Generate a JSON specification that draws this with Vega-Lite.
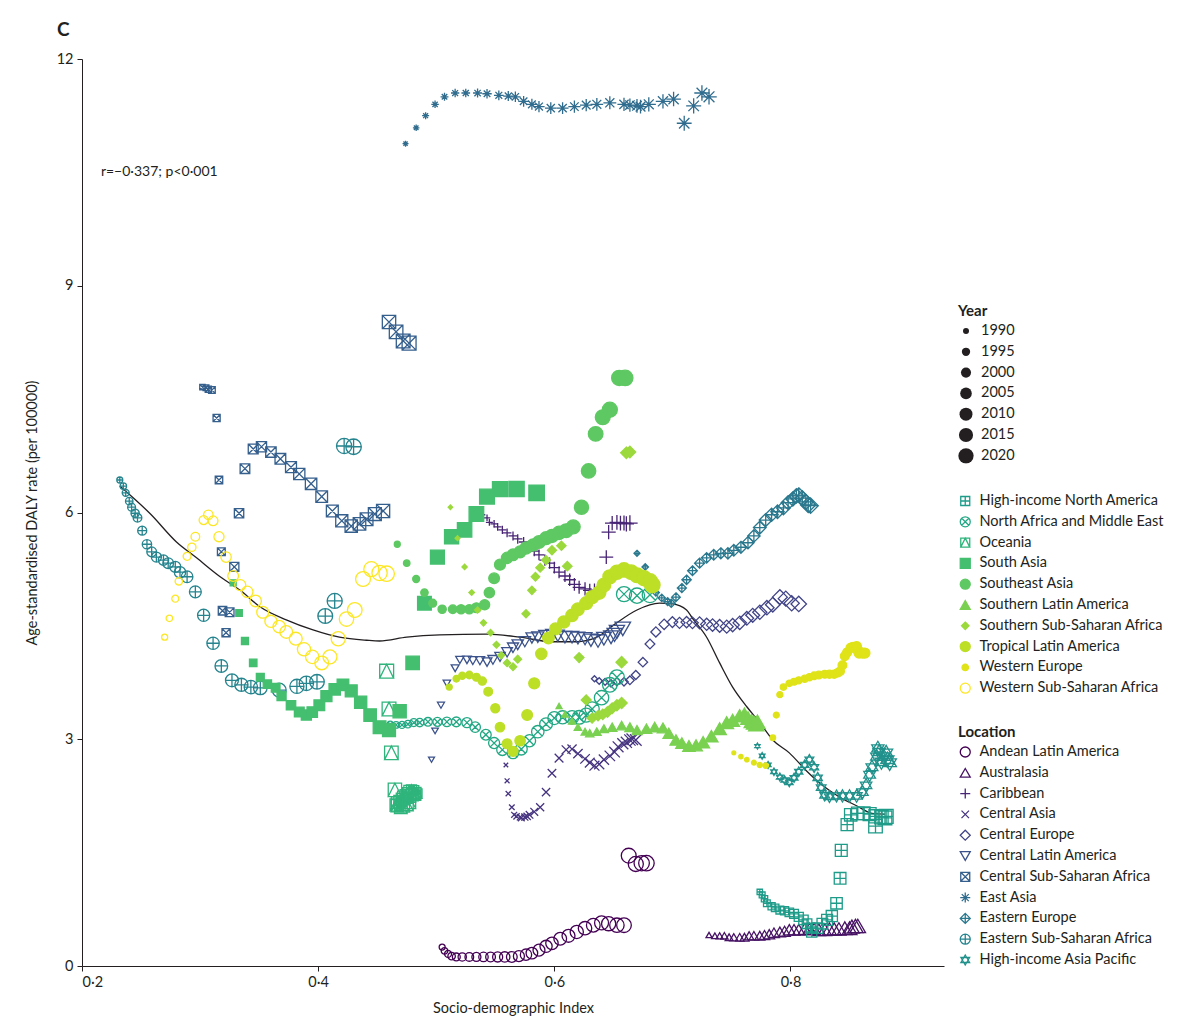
{
"$schema":"https://vega.github.io/schema/vega-lite/v6.json",
"width":862,"height":907,
"autosize":{"type":"none"},
"padding":{"left":82,"top":59,"right":245,"bottom":60},
"background":"white",
"title":{"text":"C","anchor":"start","frame":"group","fontSize":19,"fontWeight":"bold","font":"Lato","color":"#231f20","dx":-25,"offset":11},
"datasets":{
"pts":[
{"loc":"East Asia","year":1990,"sdi":0.474,"rate":10.88},{"loc":"East Asia","year":1991,"sdi":0.483,"rate":11.09},{"loc":"East Asia","year":1992,"sdi":0.491,"rate":11.25},{"loc":"East Asia","year":1993,"sdi":0.499,"rate":11.40},{"loc":"East Asia","year":1994,"sdi":0.507,"rate":11.50},{"loc":"East Asia","year":1995,"sdi":0.516,"rate":11.55},{"loc":"East Asia","year":1996,"sdi":0.525,"rate":11.55},{"loc":"East Asia","year":1997,"sdi":0.535,"rate":11.55},{"loc":"East Asia","year":1998,"sdi":0.543,"rate":11.54},{"loc":"East Asia","year":1999,"sdi":0.553,"rate":11.52},{"loc":"East Asia","year":2000,"sdi":0.561,"rate":11.51},{"loc":"East Asia","year":2001,"sdi":0.567,"rate":11.50},{"loc":"East Asia","year":2002,"sdi":0.574,"rate":11.44},{"loc":"East Asia","year":2003,"sdi":0.581,"rate":11.40},{"loc":"East Asia","year":2004,"sdi":0.587,"rate":11.37},{"loc":"East Asia","year":2005,"sdi":0.597,"rate":11.35},{"loc":"East Asia","year":2006,"sdi":0.607,"rate":11.35},{"loc":"East Asia","year":2007,"sdi":0.617,"rate":11.37},{"loc":"East Asia","year":2008,"sdi":0.627,"rate":11.39},{"loc":"East Asia","year":2009,"sdi":0.636,"rate":11.40},{"loc":"East Asia","year":2010,"sdi":0.647,"rate":11.42},{"loc":"East Asia","year":2011,"sdi":0.659,"rate":11.40},{"loc":"East Asia","year":2012,"sdi":0.664,"rate":11.39},{"loc":"East Asia","year":2013,"sdi":0.670,"rate":11.38},{"loc":"East Asia","year":2014,"sdi":0.673,"rate":11.37},{"loc":"East Asia","year":2015,"sdi":0.680,"rate":11.40},{"loc":"East Asia","year":2016,"sdi":0.692,"rate":11.44},{"loc":"East Asia","year":2017,"sdi":0.701,"rate":11.47},{"loc":"East Asia","year":2018,"sdi":0.710,"rate":11.15},{"loc":"East Asia","year":2019,"sdi":0.718,"rate":11.38},{"loc":"East Asia","year":2020,"sdi":0.725,"rate":11.55},{"loc":"East Asia","year":2021,"sdi":0.731,"rate":11.50},
{"loc":"Andean Latin America","year":1990,"sdi":0.505,"rate":0.25},{"loc":"Andean Latin America","year":1991,"sdi":0.507,"rate":0.20},{"loc":"Andean Latin America","year":1992,"sdi":0.510,"rate":0.16},{"loc":"Andean Latin America","year":1993,"sdi":0.513,"rate":0.13},{"loc":"Andean Latin America","year":1994,"sdi":0.517,"rate":0.12},{"loc":"Andean Latin America","year":1995,"sdi":0.522,"rate":0.12},{"loc":"Andean Latin America","year":1996,"sdi":0.528,"rate":0.12},{"loc":"Andean Latin America","year":1997,"sdi":0.534,"rate":0.12},{"loc":"Andean Latin America","year":1998,"sdi":0.540,"rate":0.12},{"loc":"Andean Latin America","year":1999,"sdi":0.546,"rate":0.12},{"loc":"Andean Latin America","year":2000,"sdi":0.552,"rate":0.12},{"loc":"Andean Latin America","year":2001,"sdi":0.558,"rate":0.12},{"loc":"Andean Latin America","year":2002,"sdi":0.564,"rate":0.12},{"loc":"Andean Latin America","year":2003,"sdi":0.570,"rate":0.13},{"loc":"Andean Latin America","year":2004,"sdi":0.576,"rate":0.15},{"loc":"Andean Latin America","year":2005,"sdi":0.581,"rate":0.17},{"loc":"Andean Latin America","year":2006,"sdi":0.587,"rate":0.21},{"loc":"Andean Latin America","year":2007,"sdi":0.593,"rate":0.26},{"loc":"Andean Latin America","year":2008,"sdi":0.598,"rate":0.30},{"loc":"Andean Latin America","year":2009,"sdi":0.605,"rate":0.36},{"loc":"Andean Latin America","year":2010,"sdi":0.612,"rate":0.40},{"loc":"Andean Latin America","year":2011,"sdi":0.619,"rate":0.45},{"loc":"Andean Latin America","year":2012,"sdi":0.626,"rate":0.50},{"loc":"Andean Latin America","year":2013,"sdi":0.633,"rate":0.54},{"loc":"Andean Latin America","year":2014,"sdi":0.640,"rate":0.57},{"loc":"Andean Latin America","year":2015,"sdi":0.646,"rate":0.56},{"loc":"Andean Latin America","year":2016,"sdi":0.653,"rate":0.54},{"loc":"Andean Latin America","year":2017,"sdi":0.659,"rate":0.54},{"loc":"Andean Latin America","year":2018,"sdi":0.663,"rate":1.46},{"loc":"Andean Latin America","year":2019,"sdi":0.669,"rate":1.35},{"loc":"Andean Latin America","year":2020,"sdi":0.674,"rate":1.36},{"loc":"Andean Latin America","year":2021,"sdi":0.678,"rate":1.36},
{"loc":"Australasia","year":1990,"sdi":0.731,"rate":0.41},{"loc":"Australasia","year":1991,"sdi":0.736,"rate":0.40},{"loc":"Australasia","year":1992,"sdi":0.740,"rate":0.40},{"loc":"Australasia","year":1993,"sdi":0.744,"rate":0.40},{"loc":"Australasia","year":1994,"sdi":0.748,"rate":0.38},{"loc":"Australasia","year":1995,"sdi":0.752,"rate":0.38},{"loc":"Australasia","year":1996,"sdi":0.757,"rate":0.38},{"loc":"Australasia","year":1997,"sdi":0.761,"rate":0.38},{"loc":"Australasia","year":1998,"sdi":0.765,"rate":0.40},{"loc":"Australasia","year":1999,"sdi":0.769,"rate":0.40},{"loc":"Australasia","year":2000,"sdi":0.774,"rate":0.40},{"loc":"Australasia","year":2001,"sdi":0.778,"rate":0.41},{"loc":"Australasia","year":2002,"sdi":0.782,"rate":0.42},{"loc":"Australasia","year":2003,"sdi":0.786,"rate":0.44},{"loc":"Australasia","year":2004,"sdi":0.791,"rate":0.45},{"loc":"Australasia","year":2005,"sdi":0.795,"rate":0.46},{"loc":"Australasia","year":2006,"sdi":0.799,"rate":0.48},{"loc":"Australasia","year":2007,"sdi":0.803,"rate":0.48},{"loc":"Australasia","year":2008,"sdi":0.807,"rate":0.48},{"loc":"Australasia","year":2009,"sdi":0.812,"rate":0.49},{"loc":"Australasia","year":2010,"sdi":0.816,"rate":0.49},{"loc":"Australasia","year":2011,"sdi":0.820,"rate":0.49},{"loc":"Australasia","year":2012,"sdi":0.824,"rate":0.48},{"loc":"Australasia","year":2013,"sdi":0.829,"rate":0.48},{"loc":"Australasia","year":2014,"sdi":0.833,"rate":0.49},{"loc":"Australasia","year":2015,"sdi":0.837,"rate":0.49},{"loc":"Australasia","year":2016,"sdi":0.841,"rate":0.49},{"loc":"Australasia","year":2017,"sdi":0.846,"rate":0.50},{"loc":"Australasia","year":2018,"sdi":0.850,"rate":0.50},{"loc":"Australasia","year":2019,"sdi":0.852,"rate":0.52},{"loc":"Australasia","year":2020,"sdi":0.855,"rate":0.53},{"loc":"Australasia","year":2021,"sdi":0.857,"rate":0.53},
{"loc":"Caribbean","year":1990,"sdi":0.539,"rate":5.97},{"loc":"Caribbean","year":1991,"sdi":0.543,"rate":5.93},{"loc":"Caribbean","year":1992,"sdi":0.545,"rate":5.87},{"loc":"Caribbean","year":1993,"sdi":0.549,"rate":5.85},{"loc":"Caribbean","year":1994,"sdi":0.552,"rate":5.81},{"loc":"Caribbean","year":1995,"sdi":0.556,"rate":5.77},{"loc":"Caribbean","year":1996,"sdi":0.560,"rate":5.73},{"loc":"Caribbean","year":1997,"sdi":0.565,"rate":5.69},{"loc":"Caribbean","year":1998,"sdi":0.569,"rate":5.65},{"loc":"Caribbean","year":1999,"sdi":0.574,"rate":5.61},{"loc":"Caribbean","year":2000,"sdi":0.579,"rate":5.54},{"loc":"Caribbean","year":2001,"sdi":0.583,"rate":5.49},{"loc":"Caribbean","year":2002,"sdi":0.587,"rate":5.44},{"loc":"Caribbean","year":2003,"sdi":0.592,"rate":5.37},{"loc":"Caribbean","year":2004,"sdi":0.596,"rate":5.33},{"loc":"Caribbean","year":2005,"sdi":0.600,"rate":5.27},{"loc":"Caribbean","year":2006,"sdi":0.604,"rate":5.21},{"loc":"Caribbean","year":2007,"sdi":0.609,"rate":5.16},{"loc":"Caribbean","year":2008,"sdi":0.613,"rate":5.11},{"loc":"Caribbean","year":2009,"sdi":0.617,"rate":5.05},{"loc":"Caribbean","year":2010,"sdi":0.621,"rate":5.01},{"loc":"Caribbean","year":2011,"sdi":0.626,"rate":4.99},{"loc":"Caribbean","year":2012,"sdi":0.630,"rate":4.97},{"loc":"Caribbean","year":2013,"sdi":0.634,"rate":4.97},{"loc":"Caribbean","year":2014,"sdi":0.644,"rate":5.41},{"loc":"Caribbean","year":2015,"sdi":0.646,"rate":5.74},{"loc":"Caribbean","year":2016,"sdi":0.649,"rate":5.86},{"loc":"Caribbean","year":2017,"sdi":0.653,"rate":5.87},{"loc":"Caribbean","year":2018,"sdi":0.656,"rate":5.86},{"loc":"Caribbean","year":2019,"sdi":0.659,"rate":5.86},{"loc":"Caribbean","year":2020,"sdi":0.661,"rate":5.85},{"loc":"Caribbean","year":2021,"sdi":0.664,"rate":5.86},
{"loc":"Central Asia","year":1990,"sdi":0.559,"rate":2.66},{"loc":"Central Asia","year":1991,"sdi":0.560,"rate":2.45},{"loc":"Central Asia","year":1992,"sdi":0.561,"rate":2.28},{"loc":"Central Asia","year":1993,"sdi":0.564,"rate":2.10},{"loc":"Central Asia","year":1994,"sdi":0.566,"rate":2.00},{"loc":"Central Asia","year":1995,"sdi":0.568,"rate":1.98},{"loc":"Central Asia","year":1996,"sdi":0.571,"rate":1.97},{"loc":"Central Asia","year":1997,"sdi":0.572,"rate":1.96},{"loc":"Central Asia","year":1998,"sdi":0.575,"rate":1.97},{"loc":"Central Asia","year":1999,"sdi":0.577,"rate":1.98},{"loc":"Central Asia","year":2000,"sdi":0.579,"rate":2.00},{"loc":"Central Asia","year":2001,"sdi":0.583,"rate":2.04},{"loc":"Central Asia","year":2002,"sdi":0.588,"rate":2.10},{"loc":"Central Asia","year":2003,"sdi":0.593,"rate":2.30},{"loc":"Central Asia","year":2004,"sdi":0.598,"rate":2.55},{"loc":"Central Asia","year":2005,"sdi":0.604,"rate":2.75},{"loc":"Central Asia","year":2006,"sdi":0.610,"rate":2.86},{"loc":"Central Asia","year":2007,"sdi":0.615,"rate":2.87},{"loc":"Central Asia","year":2008,"sdi":0.620,"rate":2.81},{"loc":"Central Asia","year":2009,"sdi":0.626,"rate":2.74},{"loc":"Central Asia","year":2010,"sdi":0.630,"rate":2.69},{"loc":"Central Asia","year":2011,"sdi":0.634,"rate":2.65},{"loc":"Central Asia","year":2012,"sdi":0.638,"rate":2.67},{"loc":"Central Asia","year":2013,"sdi":0.642,"rate":2.73},{"loc":"Central Asia","year":2014,"sdi":0.647,"rate":2.78},{"loc":"Central Asia","year":2015,"sdi":0.651,"rate":2.83},{"loc":"Central Asia","year":2016,"sdi":0.654,"rate":2.90},{"loc":"Central Asia","year":2017,"sdi":0.658,"rate":2.94},{"loc":"Central Asia","year":2018,"sdi":0.661,"rate":2.96},{"loc":"Central Asia","year":2019,"sdi":0.664,"rate":2.99},{"loc":"Central Asia","year":2020,"sdi":0.666,"rate":3.00},{"loc":"Central Asia","year":2021,"sdi":0.669,"rate":2.99},
{"loc":"Central Europe","year":1990,"sdi":0.634,"rate":3.80},{"loc":"Central Europe","year":1991,"sdi":0.638,"rate":3.77},{"loc":"Central Europe","year":1992,"sdi":0.643,"rate":3.76},{"loc":"Central Europe","year":1993,"sdi":0.648,"rate":3.74},{"loc":"Central Europe","year":1994,"sdi":0.653,"rate":3.76},{"loc":"Central Europe","year":1995,"sdi":0.659,"rate":3.76},{"loc":"Central Europe","year":1996,"sdi":0.664,"rate":3.78},{"loc":"Central Europe","year":1997,"sdi":0.669,"rate":3.85},{"loc":"Central Europe","year":1998,"sdi":0.675,"rate":4.02},{"loc":"Central Europe","year":1999,"sdi":0.681,"rate":4.26},{"loc":"Central Europe","year":2000,"sdi":0.686,"rate":4.42},{"loc":"Central Europe","year":2001,"sdi":0.693,"rate":4.52},{"loc":"Central Europe","year":2002,"sdi":0.700,"rate":4.55},{"loc":"Central Europe","year":2003,"sdi":0.706,"rate":4.54},{"loc":"Central Europe","year":2004,"sdi":0.712,"rate":4.55},{"loc":"Central Europe","year":2005,"sdi":0.717,"rate":4.54},{"loc":"Central Europe","year":2006,"sdi":0.723,"rate":4.54},{"loc":"Central Europe","year":2007,"sdi":0.729,"rate":4.52},{"loc":"Central Europe","year":2008,"sdi":0.734,"rate":4.51},{"loc":"Central Europe","year":2009,"sdi":0.740,"rate":4.50},{"loc":"Central Europe","year":2010,"sdi":0.746,"rate":4.49},{"loc":"Central Europe","year":2011,"sdi":0.751,"rate":4.51},{"loc":"Central Europe","year":2012,"sdi":0.757,"rate":4.54},{"loc":"Central Europe","year":2013,"sdi":0.763,"rate":4.60},{"loc":"Central Europe","year":2014,"sdi":0.768,"rate":4.64},{"loc":"Central Europe","year":2015,"sdi":0.774,"rate":4.68},{"loc":"Central Europe","year":2016,"sdi":0.780,"rate":4.74},{"loc":"Central Europe","year":2017,"sdi":0.785,"rate":4.78},{"loc":"Central Europe","year":2018,"sdi":0.791,"rate":4.88},{"loc":"Central Europe","year":2019,"sdi":0.796,"rate":4.86},{"loc":"Central Europe","year":2020,"sdi":0.801,"rate":4.80},{"loc":"Central Europe","year":2021,"sdi":0.807,"rate":4.79},
{"loc":"Central Latin America","year":1990,"sdi":0.496,"rate":2.73},{"loc":"Central Latin America","year":1991,"sdi":0.499,"rate":3.11},{"loc":"Central Latin America","year":1992,"sdi":0.504,"rate":3.45},{"loc":"Central Latin America","year":1993,"sdi":0.509,"rate":3.74},{"loc":"Central Latin America","year":1994,"sdi":0.516,"rate":3.94},{"loc":"Central Latin America","year":1995,"sdi":0.520,"rate":4.05},{"loc":"Central Latin America","year":1996,"sdi":0.526,"rate":4.05},{"loc":"Central Latin America","year":1997,"sdi":0.531,"rate":4.04},{"loc":"Central Latin America","year":1998,"sdi":0.537,"rate":4.04},{"loc":"Central Latin America","year":1999,"sdi":0.543,"rate":4.02},{"loc":"Central Latin America","year":2000,"sdi":0.548,"rate":4.05},{"loc":"Central Latin America","year":2001,"sdi":0.554,"rate":4.09},{"loc":"Central Latin America","year":2002,"sdi":0.560,"rate":4.15},{"loc":"Central Latin America","year":2003,"sdi":0.565,"rate":4.21},{"loc":"Central Latin America","year":2004,"sdi":0.569,"rate":4.25},{"loc":"Central Latin America","year":2005,"sdi":0.575,"rate":4.29},{"loc":"Central Latin America","year":2006,"sdi":0.581,"rate":4.34},{"loc":"Central Latin America","year":2007,"sdi":0.586,"rate":4.35},{"loc":"Central Latin America","year":2008,"sdi":0.592,"rate":4.37},{"loc":"Central Latin America","year":2009,"sdi":0.598,"rate":4.38},{"loc":"Central Latin America","year":2010,"sdi":0.603,"rate":4.37},{"loc":"Central Latin America","year":2011,"sdi":0.609,"rate":4.35},{"loc":"Central Latin America","year":2012,"sdi":0.615,"rate":4.35},{"loc":"Central Latin America","year":2013,"sdi":0.620,"rate":4.34},{"loc":"Central Latin America","year":2014,"sdi":0.626,"rate":4.33},{"loc":"Central Latin America","year":2015,"sdi":0.631,"rate":4.31},{"loc":"Central Latin America","year":2016,"sdi":0.637,"rate":4.30},{"loc":"Central Latin America","year":2017,"sdi":0.642,"rate":4.33},{"loc":"Central Latin America","year":2018,"sdi":0.648,"rate":4.35},{"loc":"Central Latin America","year":2019,"sdi":0.651,"rate":4.38},{"loc":"Central Latin America","year":2020,"sdi":0.653,"rate":4.42},{"loc":"Central Latin America","year":2021,"sdi":0.658,"rate":4.46},
{"loc":"Central Sub-Saharan Africa","year":1990,"sdi":0.302,"rate":7.66},{"loc":"Central Sub-Saharan Africa","year":1991,"sdi":0.305,"rate":7.65},{"loc":"Central Sub-Saharan Africa","year":1992,"sdi":0.307,"rate":7.63},{"loc":"Central Sub-Saharan Africa","year":1993,"sdi":0.310,"rate":7.62},{"loc":"Central Sub-Saharan Africa","year":1994,"sdi":0.314,"rate":7.25},{"loc":"Central Sub-Saharan Africa","year":1995,"sdi":0.316,"rate":6.43},{"loc":"Central Sub-Saharan Africa","year":1996,"sdi":0.318,"rate":5.48},{"loc":"Central Sub-Saharan Africa","year":1997,"sdi":0.322,"rate":4.41},{"loc":"Central Sub-Saharan Africa","year":1998,"sdi":0.319,"rate":4.70},{"loc":"Central Sub-Saharan Africa","year":1999,"sdi":0.325,"rate":4.68},{"loc":"Central Sub-Saharan Africa","year":2000,"sdi":0.329,"rate":5.28},{"loc":"Central Sub-Saharan Africa","year":2001,"sdi":0.333,"rate":5.99},{"loc":"Central Sub-Saharan Africa","year":2002,"sdi":0.338,"rate":6.58},{"loc":"Central Sub-Saharan Africa","year":2003,"sdi":0.345,"rate":6.84},{"loc":"Central Sub-Saharan Africa","year":2004,"sdi":0.352,"rate":6.87},{"loc":"Central Sub-Saharan Africa","year":2005,"sdi":0.360,"rate":6.80},{"loc":"Central Sub-Saharan Africa","year":2006,"sdi":0.368,"rate":6.71},{"loc":"Central Sub-Saharan Africa","year":2007,"sdi":0.377,"rate":6.60},{"loc":"Central Sub-Saharan Africa","year":2008,"sdi":0.384,"rate":6.51},{"loc":"Central Sub-Saharan Africa","year":2009,"sdi":0.394,"rate":6.38},{"loc":"Central Sub-Saharan Africa","year":2010,"sdi":0.403,"rate":6.21},{"loc":"Central Sub-Saharan Africa","year":2011,"sdi":0.412,"rate":6.02},{"loc":"Central Sub-Saharan Africa","year":2012,"sdi":0.420,"rate":5.89},{"loc":"Central Sub-Saharan Africa","year":2013,"sdi":0.428,"rate":5.82},{"loc":"Central Sub-Saharan Africa","year":2014,"sdi":0.435,"rate":5.85},{"loc":"Central Sub-Saharan Africa","year":2015,"sdi":0.441,"rate":5.91},{"loc":"Central Sub-Saharan Africa","year":2016,"sdi":0.448,"rate":5.98},{"loc":"Central Sub-Saharan Africa","year":2017,"sdi":0.455,"rate":6.02},{"loc":"Central Sub-Saharan Africa","year":2018,"sdi":0.460,"rate":8.52},{"loc":"Central Sub-Saharan Africa","year":2019,"sdi":0.466,"rate":8.39},{"loc":"Central Sub-Saharan Africa","year":2020,"sdi":0.472,"rate":8.27},{"loc":"Central Sub-Saharan Africa","year":2021,"sdi":0.477,"rate":8.24},
{"loc":"Eastern Europe","year":1990,"sdi":0.670,"rate":5.46},{"loc":"Eastern Europe","year":1991,"sdi":0.677,"rate":5.28},{"loc":"Eastern Europe","year":1992,"sdi":0.686,"rate":4.94},{"loc":"Eastern Europe","year":1993,"sdi":0.691,"rate":4.87},{"loc":"Eastern Europe","year":1994,"sdi":0.696,"rate":4.82},{"loc":"Eastern Europe","year":1995,"sdi":0.699,"rate":4.80},{"loc":"Eastern Europe","year":1996,"sdi":0.703,"rate":4.88},{"loc":"Eastern Europe","year":1997,"sdi":0.708,"rate":5.00},{"loc":"Eastern Europe","year":1998,"sdi":0.712,"rate":5.11},{"loc":"Eastern Europe","year":1999,"sdi":0.717,"rate":5.23},{"loc":"Eastern Europe","year":2000,"sdi":0.723,"rate":5.33},{"loc":"Eastern Europe","year":2001,"sdi":0.729,"rate":5.40},{"loc":"Eastern Europe","year":2002,"sdi":0.735,"rate":5.44},{"loc":"Eastern Europe","year":2003,"sdi":0.741,"rate":5.46},{"loc":"Eastern Europe","year":2004,"sdi":0.747,"rate":5.46},{"loc":"Eastern Europe","year":2005,"sdi":0.752,"rate":5.50},{"loc":"Eastern Europe","year":2006,"sdi":0.758,"rate":5.54},{"loc":"Eastern Europe","year":2007,"sdi":0.764,"rate":5.60},{"loc":"Eastern Europe","year":2008,"sdi":0.769,"rate":5.69},{"loc":"Eastern Europe","year":2009,"sdi":0.774,"rate":5.80},{"loc":"Eastern Europe","year":2010,"sdi":0.779,"rate":5.90},{"loc":"Eastern Europe","year":2011,"sdi":0.784,"rate":5.97},{"loc":"Eastern Europe","year":2012,"sdi":0.789,"rate":6.01},{"loc":"Eastern Europe","year":2013,"sdi":0.794,"rate":6.06},{"loc":"Eastern Europe","year":2014,"sdi":0.798,"rate":6.13},{"loc":"Eastern Europe","year":2015,"sdi":0.802,"rate":6.18},{"loc":"Eastern Europe","year":2016,"sdi":0.805,"rate":6.22},{"loc":"Eastern Europe","year":2017,"sdi":0.807,"rate":6.23},{"loc":"Eastern Europe","year":2018,"sdi":0.810,"rate":6.19},{"loc":"Eastern Europe","year":2019,"sdi":0.813,"rate":6.14},{"loc":"Eastern Europe","year":2020,"sdi":0.815,"rate":6.10},{"loc":"Eastern Europe","year":2021,"sdi":0.817,"rate":6.09},
{"loc":"Eastern Sub-Saharan Africa","year":1990,"sdi":0.232,"rate":6.43},{"loc":"Eastern Sub-Saharan Africa","year":1991,"sdi":0.235,"rate":6.35},{"loc":"Eastern Sub-Saharan Africa","year":1992,"sdi":0.237,"rate":6.26},{"loc":"Eastern Sub-Saharan Africa","year":1993,"sdi":0.240,"rate":6.15},{"loc":"Eastern Sub-Saharan Africa","year":1994,"sdi":0.242,"rate":6.07},{"loc":"Eastern Sub-Saharan Africa","year":1995,"sdi":0.245,"rate":5.99},{"loc":"Eastern Sub-Saharan Africa","year":1996,"sdi":0.247,"rate":5.93},{"loc":"Eastern Sub-Saharan Africa","year":1997,"sdi":0.251,"rate":5.76},{"loc":"Eastern Sub-Saharan Africa","year":1998,"sdi":0.255,"rate":5.58},{"loc":"Eastern Sub-Saharan Africa","year":1999,"sdi":0.259,"rate":5.48},{"loc":"Eastern Sub-Saharan Africa","year":2000,"sdi":0.263,"rate":5.41},{"loc":"Eastern Sub-Saharan Africa","year":2001,"sdi":0.269,"rate":5.37},{"loc":"Eastern Sub-Saharan Africa","year":2002,"sdi":0.273,"rate":5.33},{"loc":"Eastern Sub-Saharan Africa","year":2003,"sdi":0.279,"rate":5.28},{"loc":"Eastern Sub-Saharan Africa","year":2004,"sdi":0.283,"rate":5.21},{"loc":"Eastern Sub-Saharan Africa","year":2005,"sdi":0.289,"rate":5.15},{"loc":"Eastern Sub-Saharan Africa","year":2006,"sdi":0.296,"rate":4.95},{"loc":"Eastern Sub-Saharan Africa","year":2007,"sdi":0.303,"rate":4.64},{"loc":"Eastern Sub-Saharan Africa","year":2008,"sdi":0.311,"rate":4.27},{"loc":"Eastern Sub-Saharan Africa","year":2009,"sdi":0.318,"rate":3.97},{"loc":"Eastern Sub-Saharan Africa","year":2010,"sdi":0.327,"rate":3.78},{"loc":"Eastern Sub-Saharan Africa","year":2011,"sdi":0.335,"rate":3.72},{"loc":"Eastern Sub-Saharan Africa","year":2012,"sdi":0.343,"rate":3.69},{"loc":"Eastern Sub-Saharan Africa","year":2013,"sdi":0.351,"rate":3.68},{"loc":"Eastern Sub-Saharan Africa","year":2014,"sdi":0.367,"rate":3.65},{"loc":"Eastern Sub-Saharan Africa","year":2015,"sdi":0.382,"rate":3.70},{"loc":"Eastern Sub-Saharan Africa","year":2016,"sdi":0.390,"rate":3.74},{"loc":"Eastern Sub-Saharan Africa","year":2017,"sdi":0.399,"rate":3.76},{"loc":"Eastern Sub-Saharan Africa","year":2018,"sdi":0.406,"rate":4.63},{"loc":"Eastern Sub-Saharan Africa","year":2019,"sdi":0.414,"rate":4.83},{"loc":"Eastern Sub-Saharan Africa","year":2020,"sdi":0.422,"rate":6.88},{"loc":"Eastern Sub-Saharan Africa","year":2021,"sdi":0.430,"rate":6.87},
{"loc":"High-income Asia Pacific","year":1990,"sdi":0.772,"rate":2.91},{"loc":"High-income Asia Pacific","year":1991,"sdi":0.776,"rate":2.78},{"loc":"High-income Asia Pacific","year":1992,"sdi":0.781,"rate":2.66},{"loc":"High-income Asia Pacific","year":1993,"sdi":0.786,"rate":2.57},{"loc":"High-income Asia Pacific","year":1994,"sdi":0.791,"rate":2.50},{"loc":"High-income Asia Pacific","year":1995,"sdi":0.795,"rate":2.46},{"loc":"High-income Asia Pacific","year":1996,"sdi":0.799,"rate":2.43},{"loc":"High-income Asia Pacific","year":1997,"sdi":0.803,"rate":2.49},{"loc":"High-income Asia Pacific","year":1998,"sdi":0.807,"rate":2.57},{"loc":"High-income Asia Pacific","year":1999,"sdi":0.812,"rate":2.66},{"loc":"High-income Asia Pacific","year":2000,"sdi":0.816,"rate":2.73},{"loc":"High-income Asia Pacific","year":2001,"sdi":0.820,"rate":2.63},{"loc":"High-income Asia Pacific","year":2002,"sdi":0.823,"rate":2.49},{"loc":"High-income Asia Pacific","year":2003,"sdi":0.826,"rate":2.36},{"loc":"High-income Asia Pacific","year":2004,"sdi":0.829,"rate":2.26},{"loc":"High-income Asia Pacific","year":2005,"sdi":0.833,"rate":2.24},{"loc":"High-income Asia Pacific","year":2006,"sdi":0.839,"rate":2.25},{"loc":"High-income Asia Pacific","year":2007,"sdi":0.844,"rate":2.25},{"loc":"High-income Asia Pacific","year":2008,"sdi":0.850,"rate":2.25},{"loc":"High-income Asia Pacific","year":2009,"sdi":0.856,"rate":2.25},{"loc":"High-income Asia Pacific","year":2010,"sdi":0.861,"rate":2.30},{"loc":"High-income Asia Pacific","year":2011,"sdi":0.864,"rate":2.39},{"loc":"High-income Asia Pacific","year":2012,"sdi":0.867,"rate":2.53},{"loc":"High-income Asia Pacific","year":2013,"sdi":0.869,"rate":2.63},{"loc":"High-income Asia Pacific","year":2014,"sdi":0.873,"rate":2.77},{"loc":"High-income Asia Pacific","year":2015,"sdi":0.874,"rate":2.88},{"loc":"High-income Asia Pacific","year":2016,"sdi":0.875,"rate":2.83},{"loc":"High-income Asia Pacific","year":2017,"sdi":0.877,"rate":2.70},{"loc":"High-income Asia Pacific","year":2018,"sdi":0.879,"rate":2.77},{"loc":"High-income Asia Pacific","year":2019,"sdi":0.881,"rate":2.82},{"loc":"High-income Asia Pacific","year":2020,"sdi":0.882,"rate":2.73},{"loc":"High-income Asia Pacific","year":2021,"sdi":0.884,"rate":2.69},
{"loc":"High-income North America","year":1990,"sdi":0.774,"rate":0.98},{"loc":"High-income North America","year":1991,"sdi":0.776,"rate":0.94},{"loc":"High-income North America","year":1992,"sdi":0.778,"rate":0.89},{"loc":"High-income North America","year":1993,"sdi":0.780,"rate":0.83},{"loc":"High-income North America","year":1994,"sdi":0.784,"rate":0.79},{"loc":"High-income North America","year":1995,"sdi":0.787,"rate":0.77},{"loc":"High-income North America","year":1996,"sdi":0.791,"rate":0.74},{"loc":"High-income North America","year":1997,"sdi":0.795,"rate":0.73},{"loc":"High-income North America","year":1998,"sdi":0.799,"rate":0.71},{"loc":"High-income North America","year":1999,"sdi":0.803,"rate":0.69},{"loc":"High-income North America","year":2000,"sdi":0.807,"rate":0.65},{"loc":"High-income North America","year":2001,"sdi":0.811,"rate":0.61},{"loc":"High-income North America","year":2002,"sdi":0.814,"rate":0.56},{"loc":"High-income North America","year":2003,"sdi":0.817,"rate":0.50},{"loc":"High-income North America","year":2004,"sdi":0.818,"rate":0.45},{"loc":"High-income North America","year":2005,"sdi":0.823,"rate":0.50},{"loc":"High-income North America","year":2006,"sdi":0.827,"rate":0.56},{"loc":"High-income North America","year":2007,"sdi":0.831,"rate":0.61},{"loc":"High-income North America","year":2008,"sdi":0.835,"rate":0.66},{"loc":"High-income North America","year":2009,"sdi":0.839,"rate":0.83},{"loc":"High-income North America","year":2010,"sdi":0.842,"rate":1.16},{"loc":"High-income North America","year":2011,"sdi":0.843,"rate":1.53},{"loc":"High-income North America","year":2012,"sdi":0.848,"rate":1.87},{"loc":"High-income North America","year":2013,"sdi":0.851,"rate":2.00},{"loc":"High-income North America","year":2014,"sdi":0.857,"rate":2.02},{"loc":"High-income North America","year":2015,"sdi":0.862,"rate":2.02},{"loc":"High-income North America","year":2016,"sdi":0.867,"rate":2.01},{"loc":"High-income North America","year":2017,"sdi":0.872,"rate":1.98},{"loc":"High-income North America","year":2018,"sdi":0.877,"rate":1.97},{"loc":"High-income North America","year":2019,"sdi":0.872,"rate":1.85},{"loc":"High-income North America","year":2020,"sdi":0.880,"rate":1.96},{"loc":"High-income North America","year":2021,"sdi":0.881,"rate":1.98},
{"loc":"North Africa and Middle East","year":1990,"sdi":0.461,"rate":3.20},{"loc":"North Africa and Middle East","year":1991,"sdi":0.466,"rate":3.19},{"loc":"North Africa and Middle East","year":1992,"sdi":0.471,"rate":3.19},{"loc":"North Africa and Middle East","year":1993,"sdi":0.476,"rate":3.20},{"loc":"North Africa and Middle East","year":1994,"sdi":0.481,"rate":3.22},{"loc":"North Africa and Middle East","year":1995,"sdi":0.486,"rate":3.22},{"loc":"North Africa and Middle East","year":1996,"sdi":0.493,"rate":3.23},{"loc":"North Africa and Middle East","year":1997,"sdi":0.501,"rate":3.23},{"loc":"North Africa and Middle East","year":1998,"sdi":0.509,"rate":3.23},{"loc":"North Africa and Middle East","year":1999,"sdi":0.517,"rate":3.23},{"loc":"North Africa and Middle East","year":2000,"sdi":0.526,"rate":3.22},{"loc":"North Africa and Middle East","year":2001,"sdi":0.533,"rate":3.16},{"loc":"North Africa and Middle East","year":2002,"sdi":0.542,"rate":3.06},{"loc":"North Africa and Middle East","year":2003,"sdi":0.549,"rate":2.95},{"loc":"North Africa and Middle East","year":2004,"sdi":0.556,"rate":2.86},{"loc":"North Africa and Middle East","year":2005,"sdi":0.565,"rate":2.82},{"loc":"North Africa and Middle East","year":2006,"sdi":0.572,"rate":2.87},{"loc":"North Africa and Middle East","year":2007,"sdi":0.579,"rate":2.98},{"loc":"North Africa and Middle East","year":2008,"sdi":0.586,"rate":3.10},{"loc":"North Africa and Middle East","year":2009,"sdi":0.593,"rate":3.20},{"loc":"North Africa and Middle East","year":2010,"sdi":0.600,"rate":3.28},{"loc":"North Africa and Middle East","year":2011,"sdi":0.607,"rate":3.29},{"loc":"North Africa and Middle East","year":2012,"sdi":0.615,"rate":3.29},{"loc":"North Africa and Middle East","year":2013,"sdi":0.621,"rate":3.29},{"loc":"North Africa and Middle East","year":2014,"sdi":0.627,"rate":3.32},{"loc":"North Africa and Middle East","year":2015,"sdi":0.632,"rate":3.40},{"loc":"North Africa and Middle East","year":2016,"sdi":0.640,"rate":3.55},{"loc":"North Africa and Middle East","year":2017,"sdi":0.647,"rate":3.72},{"loc":"North Africa and Middle East","year":2018,"sdi":0.653,"rate":3.82},{"loc":"North Africa and Middle East","year":2019,"sdi":0.659,"rate":4.92},{"loc":"North Africa and Middle East","year":2020,"sdi":0.670,"rate":4.90},{"loc":"North Africa and Middle East","year":2021,"sdi":0.681,"rate":4.91},
{"loc":"Oceania","year":1990,"sdi":0.467,"rate":2.09},{"loc":"Oceania","year":1991,"sdi":0.469,"rate":2.12},{"loc":"Oceania","year":1992,"sdi":0.471,"rate":2.13},{"loc":"Oceania","year":1993,"sdi":0.472,"rate":2.16},{"loc":"Oceania","year":1994,"sdi":0.474,"rate":2.18},{"loc":"Oceania","year":1995,"sdi":0.476,"rate":2.20},{"loc":"Oceania","year":1996,"sdi":0.477,"rate":2.21},{"loc":"Oceania","year":1997,"sdi":0.479,"rate":2.22},{"loc":"Oceania","year":1998,"sdi":0.481,"rate":2.24},{"loc":"Oceania","year":1999,"sdi":0.483,"rate":2.25},{"loc":"Oceania","year":2000,"sdi":0.483,"rate":2.26},{"loc":"Oceania","year":2001,"sdi":0.484,"rate":2.28},{"loc":"Oceania","year":2002,"sdi":0.483,"rate":2.30},{"loc":"Oceania","year":2003,"sdi":0.481,"rate":2.32},{"loc":"Oceania","year":2004,"sdi":0.479,"rate":2.33},{"loc":"Oceania","year":2005,"sdi":0.477,"rate":2.32},{"loc":"Oceania","year":2006,"sdi":0.476,"rate":2.29},{"loc":"Oceania","year":2007,"sdi":0.474,"rate":2.26},{"loc":"Oceania","year":2008,"sdi":0.472,"rate":2.24},{"loc":"Oceania","year":2009,"sdi":0.471,"rate":2.21},{"loc":"Oceania","year":2010,"sdi":0.469,"rate":2.18},{"loc":"Oceania","year":2011,"sdi":0.467,"rate":2.16},{"loc":"Oceania","year":2012,"sdi":0.466,"rate":2.13},{"loc":"Oceania","year":2013,"sdi":0.467,"rate":2.12},{"loc":"Oceania","year":2014,"sdi":0.470,"rate":2.10},{"loc":"Oceania","year":2015,"sdi":0.472,"rate":2.12},{"loc":"Oceania","year":2016,"sdi":0.475,"rate":2.14},{"loc":"Oceania","year":2017,"sdi":0.477,"rate":2.17},{"loc":"Oceania","year":2018,"sdi":0.465,"rate":2.33},{"loc":"Oceania","year":2019,"sdi":0.462,"rate":2.82},{"loc":"Oceania","year":2020,"sdi":0.460,"rate":3.40},{"loc":"Oceania","year":2021,"sdi":0.458,"rate":3.90},
{"loc":"South Asia","year":1990,"sdi":0.328,"rate":5.07},{"loc":"South Asia","year":1991,"sdi":0.333,"rate":4.67},{"loc":"South Asia","year":1992,"sdi":0.338,"rate":4.30},{"loc":"South Asia","year":1993,"sdi":0.345,"rate":4.01},{"loc":"South Asia","year":1994,"sdi":0.351,"rate":3.82},{"loc":"South Asia","year":1995,"sdi":0.357,"rate":3.73},{"loc":"South Asia","year":1996,"sdi":0.364,"rate":3.68},{"loc":"South Asia","year":1997,"sdi":0.369,"rate":3.57},{"loc":"South Asia","year":1998,"sdi":0.377,"rate":3.45},{"loc":"South Asia","year":1999,"sdi":0.384,"rate":3.36},{"loc":"South Asia","year":2000,"sdi":0.390,"rate":3.32},{"loc":"South Asia","year":2001,"sdi":0.395,"rate":3.36},{"loc":"South Asia","year":2002,"sdi":0.401,"rate":3.45},{"loc":"South Asia","year":2003,"sdi":0.407,"rate":3.57},{"loc":"South Asia","year":2004,"sdi":0.414,"rate":3.66},{"loc":"South Asia","year":2005,"sdi":0.421,"rate":3.72},{"loc":"South Asia","year":2006,"sdi":0.428,"rate":3.64},{"loc":"South Asia","year":2007,"sdi":0.436,"rate":3.49},{"loc":"South Asia","year":2008,"sdi":0.444,"rate":3.32},{"loc":"South Asia","year":2009,"sdi":0.452,"rate":3.16},{"loc":"South Asia","year":2010,"sdi":0.460,"rate":3.12},{"loc":"South Asia","year":2011,"sdi":0.469,"rate":3.37},{"loc":"South Asia","year":2012,"sdi":0.480,"rate":4.01},{"loc":"South Asia","year":2013,"sdi":0.490,"rate":4.80},{"loc":"South Asia","year":2014,"sdi":0.501,"rate":5.41},{"loc":"South Asia","year":2015,"sdi":0.513,"rate":5.68},{"loc":"South Asia","year":2016,"sdi":0.524,"rate":5.77},{"loc":"South Asia","year":2017,"sdi":0.534,"rate":5.98},{"loc":"South Asia","year":2018,"sdi":0.543,"rate":6.21},{"loc":"South Asia","year":2019,"sdi":0.554,"rate":6.31},{"loc":"South Asia","year":2020,"sdi":0.568,"rate":6.31},{"loc":"South Asia","year":2021,"sdi":0.585,"rate":6.26},
{"loc":"Southeast Asia","year":1990,"sdi":0.467,"rate":5.58},{"loc":"Southeast Asia","year":1991,"sdi":0.475,"rate":5.33},{"loc":"Southeast Asia","year":1992,"sdi":0.483,"rate":5.12},{"loc":"Southeast Asia","year":1993,"sdi":0.490,"rate":4.94},{"loc":"Southeast Asia","year":1994,"sdi":0.497,"rate":4.80},{"loc":"Southeast Asia","year":1995,"sdi":0.505,"rate":4.72},{"loc":"Southeast Asia","year":1996,"sdi":0.514,"rate":4.72},{"loc":"Southeast Asia","year":1997,"sdi":0.521,"rate":4.72},{"loc":"Southeast Asia","year":1998,"sdi":0.528,"rate":4.72},{"loc":"Southeast Asia","year":1999,"sdi":0.534,"rate":4.74},{"loc":"Southeast Asia","year":2000,"sdi":0.541,"rate":4.78},{"loc":"Southeast Asia","year":2001,"sdi":0.545,"rate":4.94},{"loc":"Southeast Asia","year":2002,"sdi":0.549,"rate":5.13},{"loc":"Southeast Asia","year":2003,"sdi":0.554,"rate":5.31},{"loc":"Southeast Asia","year":2004,"sdi":0.560,"rate":5.40},{"loc":"Southeast Asia","year":2005,"sdi":0.565,"rate":5.44},{"loc":"Southeast Asia","year":2006,"sdi":0.571,"rate":5.48},{"loc":"Southeast Asia","year":2007,"sdi":0.576,"rate":5.53},{"loc":"Southeast Asia","year":2008,"sdi":0.582,"rate":5.57},{"loc":"Southeast Asia","year":2009,"sdi":0.587,"rate":5.61},{"loc":"Southeast Asia","year":2010,"sdi":0.593,"rate":5.66},{"loc":"Southeast Asia","year":2011,"sdi":0.598,"rate":5.69},{"loc":"Southeast Asia","year":2012,"sdi":0.604,"rate":5.73},{"loc":"Southeast Asia","year":2013,"sdi":0.610,"rate":5.76},{"loc":"Southeast Asia","year":2014,"sdi":0.616,"rate":5.81},{"loc":"Southeast Asia","year":2015,"sdi":0.623,"rate":6.07},{"loc":"Southeast Asia","year":2016,"sdi":0.629,"rate":6.55},{"loc":"Southeast Asia","year":2017,"sdi":0.635,"rate":7.04},{"loc":"Southeast Asia","year":2018,"sdi":0.641,"rate":7.26},{"loc":"Southeast Asia","year":2019,"sdi":0.647,"rate":7.36},{"loc":"Southeast Asia","year":2020,"sdi":0.655,"rate":7.78},{"loc":"Southeast Asia","year":2021,"sdi":0.660,"rate":7.78},
{"loc":"Southern Latin America","year":1990,"sdi":0.604,"rate":3.44},{"loc":"Southern Latin America","year":1991,"sdi":0.609,"rate":3.33},{"loc":"Southern Latin America","year":1992,"sdi":0.615,"rate":3.24},{"loc":"Southern Latin America","year":1993,"sdi":0.620,"rate":3.16},{"loc":"Southern Latin America","year":1994,"sdi":0.626,"rate":3.10},{"loc":"Southern Latin America","year":1995,"sdi":0.630,"rate":3.08},{"loc":"Southern Latin America","year":1996,"sdi":0.636,"rate":3.10},{"loc":"Southern Latin America","year":1997,"sdi":0.642,"rate":3.14},{"loc":"Southern Latin America","year":1998,"sdi":0.649,"rate":3.16},{"loc":"Southern Latin America","year":1999,"sdi":0.657,"rate":3.18},{"loc":"Southern Latin America","year":2000,"sdi":0.664,"rate":3.16},{"loc":"Southern Latin America","year":2001,"sdi":0.670,"rate":3.12},{"loc":"Southern Latin America","year":2002,"sdi":0.678,"rate":3.14},{"loc":"Southern Latin America","year":2003,"sdi":0.685,"rate":3.16},{"loc":"Southern Latin America","year":2004,"sdi":0.692,"rate":3.15},{"loc":"Southern Latin America","year":2005,"sdi":0.697,"rate":3.08},{"loc":"Southern Latin America","year":2006,"sdi":0.703,"rate":2.99},{"loc":"Southern Latin America","year":2007,"sdi":0.708,"rate":2.95},{"loc":"Southern Latin America","year":2008,"sdi":0.714,"rate":2.91},{"loc":"Southern Latin America","year":2009,"sdi":0.720,"rate":2.92},{"loc":"Southern Latin America","year":2010,"sdi":0.726,"rate":2.96},{"loc":"Southern Latin America","year":2011,"sdi":0.733,"rate":3.04},{"loc":"Southern Latin America","year":2012,"sdi":0.740,"rate":3.14},{"loc":"Southern Latin America","year":2013,"sdi":0.746,"rate":3.22},{"loc":"Southern Latin America","year":2014,"sdi":0.751,"rate":3.25},{"loc":"Southern Latin America","year":2015,"sdi":0.757,"rate":3.31},{"loc":"Southern Latin America","year":2016,"sdi":0.761,"rate":3.33},{"loc":"Southern Latin America","year":2017,"sdi":0.764,"rate":3.28},{"loc":"Southern Latin America","year":2018,"sdi":0.767,"rate":3.24},{"loc":"Southern Latin America","year":2019,"sdi":0.769,"rate":3.22},{"loc":"Southern Latin America","year":2020,"sdi":0.771,"rate":3.20},{"loc":"Southern Latin America","year":2021,"sdi":0.772,"rate":3.23},
{"loc":"Southern Sub-Saharan Africa","year":1990,"sdi":0.512,"rate":6.07},{"loc":"Southern Sub-Saharan Africa","year":1991,"sdi":0.518,"rate":5.66},{"loc":"Southern Sub-Saharan Africa","year":1992,"sdi":0.524,"rate":5.28},{"loc":"Southern Sub-Saharan Africa","year":1993,"sdi":0.530,"rate":4.94},{"loc":"Southern Sub-Saharan Africa","year":1994,"sdi":0.535,"rate":4.71},{"loc":"Southern Sub-Saharan Africa","year":1995,"sdi":0.540,"rate":4.54},{"loc":"Southern Sub-Saharan Africa","year":1996,"sdi":0.546,"rate":4.41},{"loc":"Southern Sub-Saharan Africa","year":1997,"sdi":0.551,"rate":4.25},{"loc":"Southern Sub-Saharan Africa","year":1998,"sdi":0.555,"rate":4.11},{"loc":"Southern Sub-Saharan Africa","year":1999,"sdi":0.560,"rate":4.01},{"loc":"Southern Sub-Saharan Africa","year":2000,"sdi":0.565,"rate":3.96},{"loc":"Southern Sub-Saharan Africa","year":2001,"sdi":0.569,"rate":4.06},{"loc":"Southern Sub-Saharan Africa","year":2002,"sdi":0.576,"rate":4.66},{"loc":"Southern Sub-Saharan Africa","year":2003,"sdi":0.581,"rate":4.97},{"loc":"Southern Sub-Saharan Africa","year":2004,"sdi":0.584,"rate":5.15},{"loc":"Southern Sub-Saharan Africa","year":2005,"sdi":0.588,"rate":5.27},{"loc":"Southern Sub-Saharan Africa","year":2006,"sdi":0.593,"rate":5.37},{"loc":"Southern Sub-Saharan Africa","year":2007,"sdi":0.598,"rate":5.50},{"loc":"Southern Sub-Saharan Africa","year":2008,"sdi":0.606,"rate":5.56},{"loc":"Southern Sub-Saharan Africa","year":2009,"sdi":0.611,"rate":5.29},{"loc":"Southern Sub-Saharan Africa","year":2010,"sdi":0.621,"rate":4.08},{"loc":"Southern Sub-Saharan Africa","year":2011,"sdi":0.627,"rate":3.52},{"loc":"Southern Sub-Saharan Africa","year":2012,"sdi":0.632,"rate":3.28},{"loc":"Southern Sub-Saharan Africa","year":2013,"sdi":0.637,"rate":3.31},{"loc":"Southern Sub-Saharan Africa","year":2014,"sdi":0.641,"rate":3.33},{"loc":"Southern Sub-Saharan Africa","year":2015,"sdi":0.645,"rate":3.36},{"loc":"Southern Sub-Saharan Africa","year":2016,"sdi":0.649,"rate":3.41},{"loc":"Southern Sub-Saharan Africa","year":2017,"sdi":0.653,"rate":3.45},{"loc":"Southern Sub-Saharan Africa","year":2018,"sdi":0.657,"rate":3.48},{"loc":"Southern Sub-Saharan Africa","year":2019,"sdi":0.657,"rate":4.02},{"loc":"Southern Sub-Saharan Africa","year":2020,"sdi":0.661,"rate":6.79},{"loc":"Southern Sub-Saharan Africa","year":2021,"sdi":0.664,"rate":6.80},
{"loc":"Tropical Latin America","year":1990,"sdi":0.511,"rate":3.69},{"loc":"Tropical Latin America","year":1991,"sdi":0.517,"rate":3.80},{"loc":"Tropical Latin America","year":1992,"sdi":0.522,"rate":3.84},{"loc":"Tropical Latin America","year":1993,"sdi":0.528,"rate":3.85},{"loc":"Tropical Latin America","year":1994,"sdi":0.534,"rate":3.82},{"loc":"Tropical Latin America","year":1995,"sdi":0.539,"rate":3.77},{"loc":"Tropical Latin America","year":1996,"sdi":0.544,"rate":3.63},{"loc":"Tropical Latin America","year":1997,"sdi":0.550,"rate":3.41},{"loc":"Tropical Latin America","year":1998,"sdi":0.554,"rate":3.16},{"loc":"Tropical Latin America","year":1999,"sdi":0.560,"rate":2.94},{"loc":"Tropical Latin America","year":2000,"sdi":0.565,"rate":2.84},{"loc":"Tropical Latin America","year":2001,"sdi":0.571,"rate":2.98},{"loc":"Tropical Latin America","year":2002,"sdi":0.577,"rate":3.32},{"loc":"Tropical Latin America","year":2003,"sdi":0.583,"rate":3.74},{"loc":"Tropical Latin America","year":2004,"sdi":0.589,"rate":4.13},{"loc":"Tropical Latin America","year":2005,"sdi":0.595,"rate":4.34},{"loc":"Tropical Latin America","year":2006,"sdi":0.601,"rate":4.46},{"loc":"Tropical Latin America","year":2007,"sdi":0.608,"rate":4.55},{"loc":"Tropical Latin America","year":2008,"sdi":0.615,"rate":4.64},{"loc":"Tropical Latin America","year":2009,"sdi":0.620,"rate":4.72},{"loc":"Tropical Latin America","year":2010,"sdi":0.627,"rate":4.80},{"loc":"Tropical Latin America","year":2011,"sdi":0.632,"rate":4.88},{"loc":"Tropical Latin America","year":2012,"sdi":0.638,"rate":4.94},{"loc":"Tropical Latin America","year":2013,"sdi":0.642,"rate":5.04},{"loc":"Tropical Latin America","year":2014,"sdi":0.647,"rate":5.15},{"loc":"Tropical Latin America","year":2015,"sdi":0.653,"rate":5.21},{"loc":"Tropical Latin America","year":2016,"sdi":0.659,"rate":5.24},{"loc":"Tropical Latin America","year":2017,"sdi":0.665,"rate":5.21},{"loc":"Tropical Latin America","year":2018,"sdi":0.670,"rate":5.17},{"loc":"Tropical Latin America","year":2019,"sdi":0.676,"rate":5.13},{"loc":"Tropical Latin America","year":2020,"sdi":0.681,"rate":5.09},{"loc":"Tropical Latin America","year":2021,"sdi":0.683,"rate":5.04},
{"loc":"Western Europe","year":1990,"sdi":0.752,"rate":2.82},{"loc":"Western Europe","year":1991,"sdi":0.758,"rate":2.77},{"loc":"Western Europe","year":1992,"sdi":0.763,"rate":2.73},{"loc":"Western Europe","year":1993,"sdi":0.769,"rate":2.69},{"loc":"Western Europe","year":1994,"sdi":0.774,"rate":2.66},{"loc":"Western Europe","year":1995,"sdi":0.779,"rate":2.65},{"loc":"Western Europe","year":1996,"sdi":0.785,"rate":3.02},{"loc":"Western Europe","year":1997,"sdi":0.788,"rate":3.32},{"loc":"Western Europe","year":1998,"sdi":0.791,"rate":3.59},{"loc":"Western Europe","year":1999,"sdi":0.794,"rate":3.69},{"loc":"Western Europe","year":2000,"sdi":0.799,"rate":3.74},{"loc":"Western Europe","year":2001,"sdi":0.803,"rate":3.76},{"loc":"Western Europe","year":2002,"sdi":0.807,"rate":3.78},{"loc":"Western Europe","year":2003,"sdi":0.812,"rate":3.80},{"loc":"Western Europe","year":2004,"sdi":0.816,"rate":3.82},{"loc":"Western Europe","year":2005,"sdi":0.820,"rate":3.84},{"loc":"Western Europe","year":2006,"sdi":0.824,"rate":3.85},{"loc":"Western Europe","year":2007,"sdi":0.829,"rate":3.86},{"loc":"Western Europe","year":2008,"sdi":0.833,"rate":3.86},{"loc":"Western Europe","year":2009,"sdi":0.837,"rate":3.86},{"loc":"Western Europe","year":2010,"sdi":0.840,"rate":3.88},{"loc":"Western Europe","year":2011,"sdi":0.842,"rate":3.90},{"loc":"Western Europe","year":2012,"sdi":0.844,"rate":3.98},{"loc":"Western Europe","year":2013,"sdi":0.846,"rate":4.10},{"loc":"Western Europe","year":2014,"sdi":0.848,"rate":4.15},{"loc":"Western Europe","year":2015,"sdi":0.851,"rate":4.21},{"loc":"Western Europe","year":2016,"sdi":0.853,"rate":4.22},{"loc":"Western Europe","year":2017,"sdi":0.856,"rate":4.23},{"loc":"Western Europe","year":2018,"sdi":0.857,"rate":4.18},{"loc":"Western Europe","year":2019,"sdi":0.858,"rate":4.14},{"loc":"Western Europe","year":2020,"sdi":0.861,"rate":4.14},{"loc":"Western Europe","year":2021,"sdi":0.863,"rate":4.14},
{"loc":"Western Sub-Saharan Africa","year":1990,"sdi":0.270,"rate":4.35},{"loc":"Western Sub-Saharan Africa","year":1991,"sdi":0.274,"rate":4.60},{"loc":"Western Sub-Saharan Africa","year":1992,"sdi":0.279,"rate":4.86},{"loc":"Western Sub-Saharan Africa","year":1993,"sdi":0.282,"rate":5.09},{"loc":"Western Sub-Saharan Africa","year":1994,"sdi":0.289,"rate":5.42},{"loc":"Western Sub-Saharan Africa","year":1995,"sdi":0.293,"rate":5.54},{"loc":"Western Sub-Saharan Africa","year":1996,"sdi":0.296,"rate":5.68},{"loc":"Western Sub-Saharan Africa","year":1997,"sdi":0.303,"rate":5.90},{"loc":"Western Sub-Saharan Africa","year":1998,"sdi":0.307,"rate":5.97},{"loc":"Western Sub-Saharan Africa","year":1999,"sdi":0.311,"rate":5.89},{"loc":"Western Sub-Saharan Africa","year":2000,"sdi":0.316,"rate":5.68},{"loc":"Western Sub-Saharan Africa","year":2001,"sdi":0.322,"rate":5.41},{"loc":"Western Sub-Saharan Africa","year":2002,"sdi":0.328,"rate":5.16},{"loc":"Western Sub-Saharan Africa","year":2003,"sdi":0.334,"rate":5.04},{"loc":"Western Sub-Saharan Africa","year":2004,"sdi":0.340,"rate":4.95},{"loc":"Western Sub-Saharan Africa","year":2005,"sdi":0.347,"rate":4.83},{"loc":"Western Sub-Saharan Africa","year":2006,"sdi":0.353,"rate":4.68},{"loc":"Western Sub-Saharan Africa","year":2007,"sdi":0.360,"rate":4.56},{"loc":"Western Sub-Saharan Africa","year":2008,"sdi":0.367,"rate":4.49},{"loc":"Western Sub-Saharan Africa","year":2009,"sdi":0.373,"rate":4.42},{"loc":"Western Sub-Saharan Africa","year":2010,"sdi":0.381,"rate":4.33},{"loc":"Western Sub-Saharan Africa","year":2011,"sdi":0.388,"rate":4.19},{"loc":"Western Sub-Saharan Africa","year":2012,"sdi":0.395,"rate":4.09},{"loc":"Western Sub-Saharan Africa","year":2013,"sdi":0.403,"rate":4.01},{"loc":"Western Sub-Saharan Africa","year":2014,"sdi":0.410,"rate":4.09},{"loc":"Western Sub-Saharan Africa","year":2015,"sdi":0.417,"rate":4.33},{"loc":"Western Sub-Saharan Africa","year":2016,"sdi":0.424,"rate":4.59},{"loc":"Western Sub-Saharan Africa","year":2017,"sdi":0.431,"rate":4.71},{"loc":"Western Sub-Saharan Africa","year":2018,"sdi":0.438,"rate":5.12},{"loc":"Western Sub-Saharan Africa","year":2019,"sdi":0.445,"rate":5.25},{"loc":"Western Sub-Saharan Africa","year":2020,"sdi":0.452,"rate":5.20},{"loc":"Western Sub-Saharan Africa","year":2021,"sdi":0.458,"rate":5.19}
],
"fit":[
{"sdi":0.232,"rate":6.35},{"sdi":0.258,"rate":5.98},{"sdi":0.280,"rate":5.61},{"sdi":0.297,"rate":5.40},{"sdi":0.317,"rate":5.15},{"sdi":0.334,"rate":4.97},{"sdi":0.351,"rate":4.75},{"sdi":0.373,"rate":4.58},{"sdi":0.395,"rate":4.45},{"sdi":0.418,"rate":4.35},{"sdi":0.441,"rate":4.31},{"sdi":0.452,"rate":4.30},{"sdi":0.475,"rate":4.35},{"sdi":0.503,"rate":4.38},{"sdi":0.543,"rate":4.39},{"sdi":0.571,"rate":4.35},{"sdi":0.598,"rate":4.29},{"sdi":0.619,"rate":4.29},{"sdi":0.636,"rate":4.35},{"sdi":0.651,"rate":4.52},{"sdi":0.670,"rate":4.71},{"sdi":0.689,"rate":4.80},{"sdi":0.700,"rate":4.79},{"sdi":0.712,"rate":4.71},{"sdi":0.717,"rate":4.60},{"sdi":0.729,"rate":4.35},{"sdi":0.740,"rate":4.01},{"sdi":0.751,"rate":3.69},{"sdi":0.763,"rate":3.43},{"sdi":0.774,"rate":3.22},{"sdi":0.785,"rate":2.99},{"sdi":0.799,"rate":2.82},{"sdi":0.813,"rate":2.59},{"sdi":0.827,"rate":2.39},{"sdi":0.841,"rate":2.24},{"sdi":0.856,"rate":2.12},{"sdi":0.869,"rate":2.02},{"sdi":0.880,"rate":2.01}
]
},
"encoding":{
"x":{"field":"sdi","type":"quantitative","scale":{"domain":[0.2,0.93],"nice":false,"zero":false},"axis":{"values":[0.2,0.4,0.6,0.8],"labelExpr":"replace(format(datum.value,'.1f'),'.','·')","title":"Socio-demographic Index","titlePadding":13}},
"y":{"field":"rate","type":"quantitative","scale":{"domain":[0,12],"nice":false,"zero":false},"axis":{"values":[0,3,6,9,12],"format":"d","title":"Age-standardised DALY rate (per 100000)","titlePadding":17}}
},
"layer":[
{"data":{"name":"fit"},"mark":{"type":"line","color":"#231f20","strokeWidth":1.3,"interpolate":"monotone"},"encoding":{}},
{"data":{"name":"pts"},
"transform":[{"filter":{"field":"loc","oneOf":["Andean Latin America","Australasia","Caribbean","Central Asia","Central Europe","Central Latin America","Central Sub-Saharan Africa","East Asia","Eastern Europe","Eastern Sub-Saharan Africa","High-income Asia Pacific"]}}],
"mark":{"type":"point","filled":true,"opacity":1,"strokeWidth":1.3},
"encoding":{
"size":{"field":"year","type":"quantitative","scale":{"domain":[1990,2021],"range":[36,240],"zero":false},"legend":{"title":"Year","values":[1990,1995,2000,2005,2010,2015,2020],"format":"d","orient":"none","legendX":876,"legendY":245,"symbolFillColor":"#231f20","symbolStrokeColor":"#231f20","symbolType":"circle","symbolStrokeWidth":0}},
"stroke":{"field":"loc","type":"nominal","scale":{"domain":["Andean Latin America","Australasia","Caribbean","Central Asia","Central Europe","Central Latin America","Central Sub-Saharan Africa","East Asia","Eastern Europe","Eastern Sub-Saharan Africa","High-income Asia Pacific"],"range":["#440154","#471365","#482475","#463480","#414487","#3B528B","#355F8D","#2F6C8E","#2A788E","#25848E","#21918C"]},"legend":{"title":"Location","orient":"none","legendX":876,"legendY":666}},
"fill":{"field":"loc","type":"nominal","scale":{"domain":["Andean Latin America","Australasia","Caribbean","Central Asia","Central Europe","Central Latin America","Central Sub-Saharan Africa","East Asia","Eastern Europe","Eastern Sub-Saharan Africa","High-income Asia Pacific"],"range":["transparent","transparent","transparent","transparent","transparent","transparent","transparent","transparent","transparent","transparent","transparent"]},"legend":{"title":"Location","orient":"none","legendX":876,"legendY":666}},
"shape":{"field":"loc","type":"nominal","scale":{"domain":["Andean Latin America","Australasia","Caribbean","Central Asia","Central Europe","Central Latin America","Central Sub-Saharan Africa","East Asia","Eastern Europe","Eastern Sub-Saharan Africa","High-income Asia Pacific"],"range":["circle","triangle-up","M-1,0H1M0,-1V1","M-0.75,-0.75L0.75,0.75M-0.75,0.75L0.75,-0.75","diamond","triangle-down","M-0.9,-0.9H0.9V0.9H-0.9ZM-0.9,-0.9L0.9,0.9M-0.9,0.9L0.9,-0.9","M-1,0H1M0,-1V1M-0.7,-0.7L0.7,0.7M-0.7,0.7L0.7,-0.7","M0,-1L1,0L0,1L-1,0ZM-1,0H1M0,-1V1","M1,0A1,1,0,1,1,-1,0A1,1,0,1,1,1,0ZM-1,0H1M0,-1V1","M0,-1L0.87,0.5L-0.87,0.5ZM0,1L0.87,-0.5L-0.87,-0.5Z"]},"legend":{"title":"Location","orient":"none","legendX":876,"legendY":666}}
}},
{"data":{"name":"pts"},
"transform":[{"filter":{"field":"loc","oneOf":["High-income North America","North Africa and Middle East","Oceania","South Asia","Southeast Asia","Southern Latin America","Southern Sub-Saharan Africa","Tropical Latin America","Western Europe","Western Sub-Saharan Africa"]}}],
"mark":{"type":"point","filled":true,"opacity":1,"strokeWidth":1.3},
"encoding":{
"size":{"field":"year","type":"quantitative","scale":{"domain":[1990,2021],"range":[36,240],"zero":false},"legend":{"title":"Year","values":[1990,1995,2000,2005,2010,2015,2020],"format":"d","orient":"none","legendX":876,"legendY":245,"symbolFillColor":"#231f20","symbolStrokeColor":"#231f20","symbolType":"circle","symbolStrokeWidth":0}},
"stroke":{"field":"loc","type":"nominal","scale":{"domain":["High-income North America","North Africa and Middle East","Oceania","South Asia","Southeast Asia","Southern Latin America","Southern Sub-Saharan Africa","Tropical Latin America","Western Europe","Western Sub-Saharan Africa"],"range":["#1E9C89","#22A884","#2FB47C","#44BF70","#5EC962","#7AD151","#9BD93C","#BDDF26","#DFE318","#FDE725"]},"legend":{"title":null,"orient":"none","legendX":876,"legendY":434}},
"fill":{"field":"loc","type":"nominal","scale":{"domain":["High-income North America","North Africa and Middle East","Oceania","South Asia","Southeast Asia","Southern Latin America","Southern Sub-Saharan Africa","Tropical Latin America","Western Europe","Western Sub-Saharan Africa"],"range":["transparent","transparent","transparent","#44BF70","#5EC962","#7AD151","#9BD93C","#BDDF26","#DFE318","transparent"]},"legend":{"title":null,"orient":"none","legendX":876,"legendY":434}},
"shape":{"field":"loc","type":"nominal","scale":{"domain":["High-income North America","North Africa and Middle East","Oceania","South Asia","Southeast Asia","Southern Latin America","Southern Sub-Saharan Africa","Tropical Latin America","Western Europe","Western Sub-Saharan Africa"],"range":["M-0.9,-0.9H0.9V0.9H-0.9ZM-0.9,0H0.9M0,-0.9V0.9","M1,0A1,1,0,1,1,-1,0A1,1,0,1,1,1,0ZM-0.7,-0.7L0.7,0.7M-0.7,0.7L0.7,-0.7","M-0.9,-0.9H0.9V0.9H-0.9ZM0,-0.9L0.9,0.9L-0.9,0.9Z","square","circle","triangle-up","M0,-0.75L0.75,0L0,0.75L-0.75,0Z","circle","M0.65,0A0.65,0.65,0,1,1,-0.65,0A0.65,0.65,0,1,1,0.65,0Z","circle"]},"legend":{"title":null,"orient":"none","legendX":876,"legendY":434}}
}},
{"data":{"values":[{"sdi":0.216,"rate":10.5,"label":"r=−0·337; p<0·001"}]},"mark":{"type":"text","align":"left","baseline":"middle","font":"Lato","fontSize":14,"color":"#231f20"},"encoding":{"text":{"field":"label"}}}
],
"resolve":{"scale":{"stroke":"independent","fill":"independent","shape":"independent"}},
"config":{
"view":{"stroke":null},
"font":"Lato",
"axis":{"grid":false,"domainColor":"#231f20","tickColor":"#231f20","labelColor":"#231f20","titleColor":"#231f20","labelFont":"Lato","labelFontSize":14.5,"titleFont":"Lato","titleFontSize":14.5,"titleFontWeight":"normal","tickSize":5,"labelPadding":4},
"legend":{"labelFont":"Lato","labelFontSize":14.5,"labelColor":"#231f20","labelLimit":300,"titleFont":"Lato","titleFontSize":15,"titleFontWeight":"bold","titleColor":"#231f20","padding":0,"rowPadding":4.8,"clipHeight":16,"labelOffset":7,"symbolStrokeWidth":1.3,"symbolSize":100,"titlePadding":4}
}
}
